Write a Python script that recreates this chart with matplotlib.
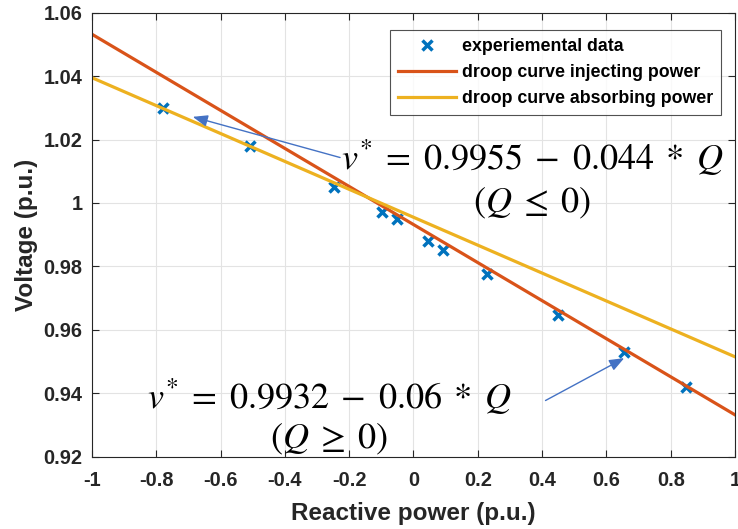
import numpy as np
import matplotlib.pyplot as plt

q_data = [-0.78, -0.51, -0.247, -0.098, -0.05, 0.046, 0.092, 0.23, 0.451, 0.656, 0.849]
v_data = [1.0299, 1.0179, 1.0049, 0.9973, 0.9948, 0.9879, 0.9851, 0.9777, 0.9646, 0.9530, 0.9421]

# droop curves
q_line = np.array([-1.0, 1.0])
v_inj = 0.9932 - 0.06 * q_line
v_abs = 0.9955 - 0.044 * q_line

plt.rcParams['font.family'] = ['Liberation Sans Narrow', 'Liberation Sans', 'DejaVu Sans']
plt.rcParams['mathtext.fontset'] = 'stix'

fig = plt.figure(figsize=(7.38, 5.29), dpi=100)
ax = fig.add_axes([92/738, 1 - 456.7/529, 643/738, 444/529])

ax.plot(q_data, v_data, 'x', color='#0072BD', ms=7, mew=2.5, label='experiemental data')
ax.plot(q_line, v_inj, color='#D95319', lw=2.3, label='droop curve injecting power')
ax.plot(q_line, v_abs, color='#EDB120', lw=2.3, label='droop curve absorbing power')

ax.set_xlim(-1, 1)
ax.set_ylim(0.92, 1.06)
ax.set_xticks(np.arange(-1, 1.01, 0.2))
ax.set_yticks(np.arange(0.92, 1.061, 0.02))
ax.set_xticklabels(['-1', '-0.8', '-0.6', '-0.4', '-0.2', '0', '0.2', '0.4', '0.6', '0.8', '1'],
                   fontweight='bold')
ax.set_yticklabels(['0.92', '0.94', '0.96', '0.98', '1', '1.02', '1.04', '1.06'],
                   fontweight='bold')
ax.tick_params(direction='in', top=True, right=True, labelsize=14.4, colors='#262626', length=5)
ax.tick_params(axis='x', pad=10)
ax.tick_params(axis='y', pad=7)
ax.grid(True, color='#e3e3e3', lw=0.8)
for s in ax.spines.values():
    s.set_color('#262626')

ax.set_xlabel('Reactive power (p.u.)', fontsize=17.5, fontweight='bold', color='#262626', labelpad=9)
ax.set_ylabel('Voltage (p.u.)', fontsize=17.5, fontweight='bold', color='#262626', labelpad=4)

leg = ax.legend(loc='upper right', bbox_to_anchor=(0.978, 0.961), borderaxespad=0,
                prop={'size': 12.8, 'weight': 'bold'}, frameon=True,
                fancybox=False, edgecolor='#262626', handlelength=3.3, borderpad=0.45,
                labelspacing=0.5, handletextpad=0.3)
leg.get_frame().set_linewidth(0.8)

eq_kw = dict(fontsize=26, ha='center', va='center')
ax.text(0.370, 1.0142, r'$v^{*}\;=\;0.9955\;-\;0.044\;*\;Q$', **eq_kw)
ax.text(0.370, 1.0000, r'$(Q\;\leq\;0)$', **eq_kw)
ax.text(-0.263, 0.9390, r'$v^{*}\;=\;0.9932\;-\;0.06\;*\;Q$', **eq_kw)
ax.text(-0.263, 0.9255, r'$(Q\;\geq\;0)$', **eq_kw)

arr = dict(arrowstyle='-|>,head_length=0.9,head_width=0.35', color='#4472C4', lw=1.0)
ax.annotate('', xy=(-0.695, 1.0274), xytext=(-0.220, 1.0141), arrowprops=arr)
ax.annotate('', xy=(0.663, 0.9515), xytext=(0.403, 0.9373), arrowprops=arr)

fig.savefig('out.png', dpi=100)
